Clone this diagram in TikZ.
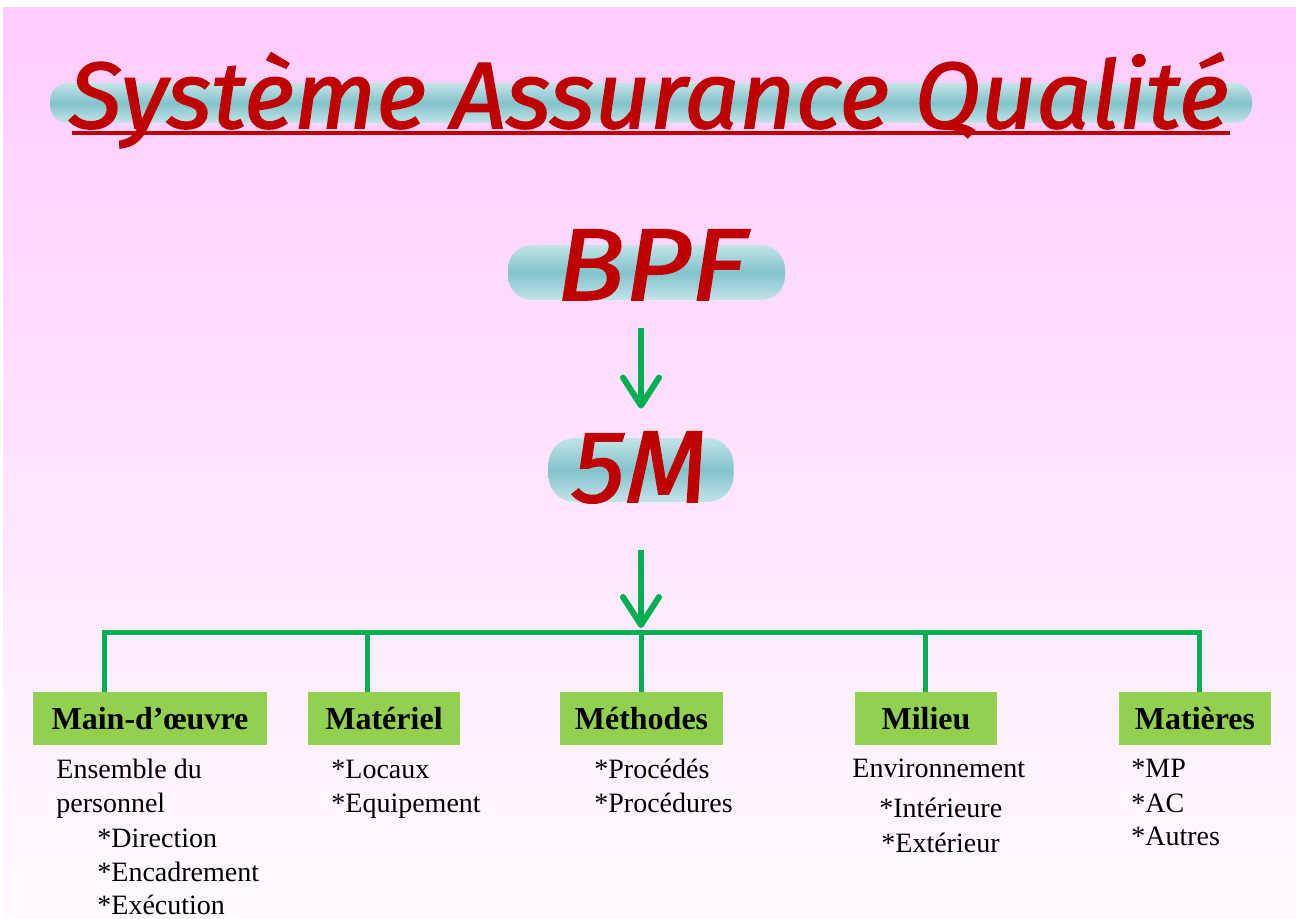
\documentclass[tikz,border=0pt]{standalone}
\usepackage{fontspec}
\setmainfont{Liberation Serif}
\newfontfamily\handfont{Fira Sans}[ItalicFeatures={FakeBold=1.6}]
\usetikzlibrary{arrows.meta}
\definecolor{pinktop}{HTML}{FFCCFF}
\definecolor{pinkbot}{HTML}{FFFAFF}
\definecolor{bandlight}{HTML}{C2E4E8}
\definecolor{banddark}{HTML}{82C3CB}
\definecolor{linegreen}{HTML}{00B050}
\definecolor{boxgreen}{HTML}{92D050}
\definecolor{titlered}{HTML}{C00000}
\tikzset{
  band/.style={rectangle, inner sep=0pt, top color=bandlight, bottom color=bandlight, middle color=banddark, draw=none},
  bigtext/.style={anchor=base, inner sep=0pt, text=titlered, font=\handfont\itshape\fontsize{51}{55}\selectfont},
  arrowline/.style={draw=linegreen, line width=3pt, -{Straight Barb[length=14pt,width=18pt,round]}},
  branch/.style={draw=linegreen, line width=2.5pt},
  labelbox/.style={rectangle, fill=boxgreen, inner sep=0pt, minimum height=26.5pt, font=\bfseries\fontsize{16}{18}\selectfont},
  body/.style={anchor=base west, inner sep=0pt, font=\fontsize{14}{16}\selectfont}
}
\begin{document}
\begin{tikzpicture}[x=0.5pt,y=-0.5pt]
\useasboundingbox (0,0) rectangle (1296,919);
\fill[white] (0,0) rectangle (1296,919);
\shade[top color=pinktop, bottom color=pinkbot] (3,8) rectangle (1296,919);
% title
\node[band, minimum width=601pt, minimum height=20pt, rounded corners=9pt] (titleband) at (651,103) {};
\node[anchor=base, inner sep=0pt, text=titlered, font=\handfont\itshape\fontsize{47}{50}\selectfont] (title) at (649,128) {\scalebox{1.03}[1]{Système Assurance Qualité}};
\draw[titlered, line width=2pt] (72,133) -- (1230,133);
% BPF and 5M
\node[band, minimum width=138.5pt, minimum height=27.5pt, rounded corners=12pt] (bpfband) at (646.5,272.5) {};
\node[bigtext] (bpf) at (651,300) {\scalebox{1.12}[1]{BPF}};
\node[band, minimum width=92.5pt, minimum height=32pt, rounded corners=13pt] (mband) at (641,470) {};
\node[bigtext] (m5) at (640,502) {\scalebox{1.05}[1]{5M}};
\draw[arrowline, shorten <=14pt, shorten >=14.5pt] (bpfband.south -| mband.north) -- (mband.north);
% junctions
\coordinate (j1) at (104,632);
\coordinate (j2) at (367,632);
\coordinate (j3) at (641,632);
\coordinate (j4) at (925,632);
\coordinate (j5) at (1199,632);
\draw[arrowline, shorten <=24pt, shorten >=2pt] (mband.south) -- (j3);
% boxes
\node[labelbox, minimum width=117pt] (main) at (150,718.5) {Main-d’œuvre};
\node[labelbox, minimum width=76pt] (mat) at (384,718.5) {Matériel};
\node[labelbox, minimum width=81.5pt] (meth) at (641.5,718.5) {Méthodes};
\node[labelbox, minimum width=71pt] (mil) at (926,718.5) {Milieu};
\node[labelbox, minimum width=76pt] (mati) at (1195,718.5) {Matières};
\draw[branch] (j1 |- main.north) -- (j1) -- (j5) -- (j5 |- mati.north);
\draw[branch] (j2) -- (j2 |- mat.north);
\draw[branch] (j3) -- (j3 |- meth.north);
\draw[branch] (j4) -- (j4 |- mil.north);
% body texts
\node[body] (t1) at (56,778) {Ensemble du};
\node[body] (t2) at (56,812) {personnel};
\node[body] (t3) at (97,847) {*Direction};
\node[body] (t4) at (97,881) {*Encadrement};
\node[body] (t5) at (97,914) {*Exécution};
\node[body] (t6) at (331,778) {*Locaux};
\node[body] (t7) at (331,812) {*Equipement};
\node[body] (t8) at (594,778) {*Procédés};
\node[body] (t9) at (594,812) {*Procédures};
\node[body] (t10) at (852,777) {Environnement};
\node[body] (t11) at (879,817) {*Intérieure};
\node[body] (t12) at (881,852) {*Extérieur};
\node[body] (t13) at (1131,777) {*MP};
\node[body] (t14) at (1131,812) {*AC};
\node[body] (t15) at (1131,845) {*Autres};
\end{tikzpicture}
\end{document}
